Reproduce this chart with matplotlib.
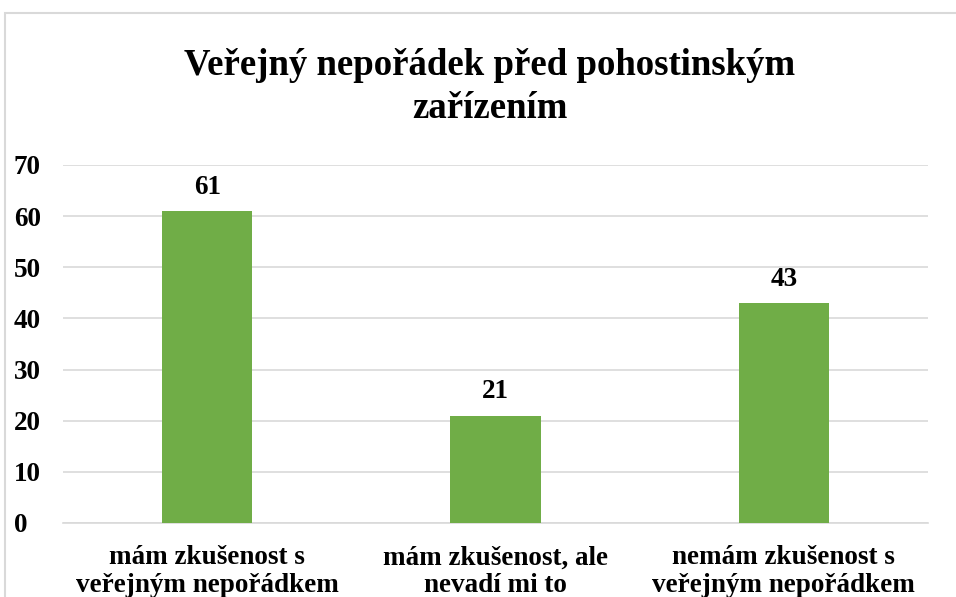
import matplotlib.pyplot as plt
from matplotlib.patches import Rectangle

plt.rcParams['font.family'] = ['Liberation Serif', 'DejaVu Serif']
plt.rcParams['font.weight'] = 'bold'

categories = ['mám zkušenost s\nveřejným nepořádkem',
              'mám zkušenost, ale\nnevadí mi to',
              'nemám zkušenost s\nveřejným nepořádkem']
values = [61, 21, 43]
yticks = [0, 10, 20, 30, 40, 50, 60, 70]
title = 'Veřejný nepořádek před pohostinským\nzařízením'

W, H = 956, 597
fig = plt.figure(figsize=(W / 100, H / 100), dpi=100)

# outer chart border (cut off on right and bottom like the original)
fig.patches.append(Rectangle((5 / W, -0.1), 1.2, 1 - 13 / H + 0.1,
                             transform=fig.transFigure, fill=False,
                             edgecolor='#d9d9d9', linewidth=1.5, zorder=0))

ax = fig.add_axes([63 / W, 1 - 523 / H, 865 / W, 358 / H])
x = range(len(categories))
ax.bar(x, values, width=0.3125, color='#70ad47', zorder=3)
for xi, v in zip(x, values):
    ax.annotate(str(v), (xi, v), xytext=(0, 17), textcoords='offset points',
                ha='center', va='center', fontsize=19.5, fontweight='bold')

ax.set_xlim(-0.5, 2.5)
ax.set_ylim(0, 70)
ax.set_yticks(yticks)
ax.set_yticklabels([str(t) for t in yticks], fontsize=19.5, fontweight='bold',
                   ha='left')
ax.set_xticks(list(x))
ax.set_xticklabels(categories, fontsize=19.5, fontweight='bold', linespacing=1.12)
ax.tick_params(axis='both', length=0)
ax.tick_params(axis='y', pad=35.5)
ax.tick_params(axis='x', pad=16)
ax.yaxis.grid(True, color='#d9d9d9', linewidth=1.2, zorder=0)
for s in ['top', 'right', 'left']:
    ax.spines[s].set_visible(False)
ax.spines['bottom'].set_color('#d9d9d9')
ax.spines['bottom'].set_linewidth(1.2)

fig.text(490 / W, 1 - 87 / H, title, ha='center', va='center',
         fontsize=26.5, fontweight='bold', linespacing=1.32)

fig.savefig('out.png', dpi=100)
